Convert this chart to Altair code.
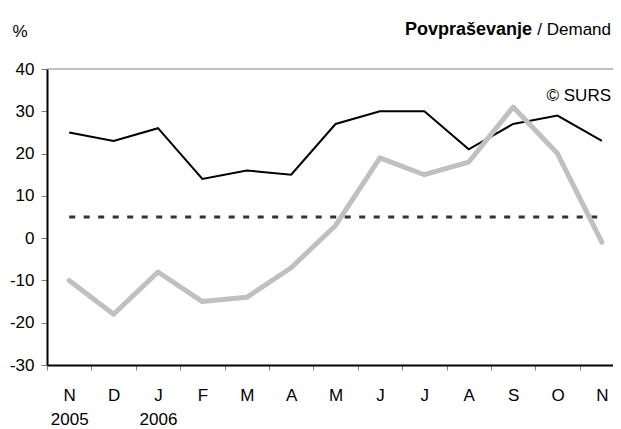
import altair as alt
import pandas as pd

months = ["N", "D", "J", "F", "M", "A", "M", "J", "J", "A", "S", "O", "N"]
years = ["2005", "", "2006", "", "", "", "", "", "", "", "", "", ""]
black_series = [25, 23, 26, 14, 16, 15, 27, 30, 30, 21, 27, 29, 23]
gray_series = [-10, -18, -8, -15, -14, -7, 3, 19, 15, 18, 31, 20, -1]
threshold = 5
y_ticks = [-30, -20, -10, 0, 10, 20, 30, 40]
title_bold = "Povpraševanje"
title_regular = "/ Demand"
unit_label = "%"
source_label = "© SURS"

FONT = "Liberation Sans, Arial, sans-serif"
FS = 17
W, H = 566, 296
X_MAX = 12.25
STEP = W / (X_MAX + 0.5)

idx = list(range(len(months)))
df = pd.DataFrame({"i": idx, "black": black_series, "gray": gray_series})

# nested conditional label expression built from the lists
expr = "''"
for k in reversed(idx):
    lab = f"['{months[k]}','{years[k]}']" if years[k] else f"'{months[k]}'"
    expr = f"datum.value === {k} ? {lab} : ({expr})"
label_expr = expr

x_scale = alt.Scale(domain=[-0.5, X_MAX], nice=False, zero=False)
y_scale = alt.Scale(domain=[-30, 40], nice=False)

x_axis = alt.Axis(
    values=idx,
    labelExpr=label_expr,
    title=None,
    grid=False,
    domainColor="black",
    domainWidth=2,
    tickColor="#808080",
    tickSize=5,
    tickOffset=-STEP / 2,
    labelOffset=STEP / 2,
    labelPadding=17,
    labelFontSize=FS,
    labelFont=FONT,
    labelColor="black",
    labelLineHeight=24,
    labelOverlap=False,
    labelFlush=False,
    labelBound=False,
)
y_axis = alt.Axis(
    values=y_ticks,
    title=None,
    grid=False,
    domainColor="black",
    domainWidth=2,
    tickColor="#808080",
    tickSize=6,
    labelPadding=7,
    labelFontSize=FS,
    labelFont=FONT,
    labelColor="black",
    labelExpr="datum.value + ''",
)

base = alt.Chart(df)

top_rule = alt.Chart(pd.DataFrame({"v": [y_ticks[-1]]})).mark_rule(
    color="#808080", strokeWidth=1
).encode(y=alt.Y("v:Q", scale=y_scale, axis=y_axis))

dash = alt.Chart(pd.DataFrame({"a": [idx[0]], "b": [idx[-1]], "v": [threshold]})).mark_rule(
    color="#333333", strokeWidth=3, strokeDash=[6, 8.5]
).encode(
    x=alt.X("a:Q", scale=x_scale, axis=x_axis),
    x2="b:Q",
    y=alt.Y("v:Q", scale=y_scale, axis=y_axis),
)

black_line = base.mark_line(color="black", strokeWidth=2).encode(
    x=alt.X("i:Q", scale=x_scale, axis=x_axis),
    y=alt.Y("black:Q", scale=y_scale, axis=y_axis),
)
gray_line = base.mark_line(
    color="#c0c0c0", strokeWidth=5, strokeCap="round", strokeJoin="round"
).encode(
    x=alt.X("i:Q", scale=x_scale, axis=x_axis),
    y=alt.Y("gray:Q", scale=y_scale, axis=y_axis),
)


def text_layer(txt, x, y, align, bold=False, size=FS):
    return alt.Chart(pd.DataFrame({"t": [txt]})).mark_text(
        align=align, baseline="middle", font=FONT, fontSize=size,
        fontWeight="bold" if bold else "normal", color="black",
    ).encode(text="t:N", x=alt.value(x), y=alt.value(y))


texts = (
    text_layer(title_bold, 485, -39, "right", bold=True, size=18)
    + text_layer(title_regular, 564, -39, "right")
    + text_layer(unit_label, -27, -37, "center")
    + text_layer(source_label, 564, 27, "right")
)

chart = alt.layer(top_rule, dash, black_line, gray_line, texts).properties(
    width=W,
    height=H,
    autosize=alt.AutoSizeParams(type="none"),
    padding={"left": 39, "top": 61, "right": 0, "bottom": 64},
).configure(background="white", view=alt.ViewConfig(stroke=None))

chart.save("out.html", embed_options={"renderer": "svg", "actions": False})
